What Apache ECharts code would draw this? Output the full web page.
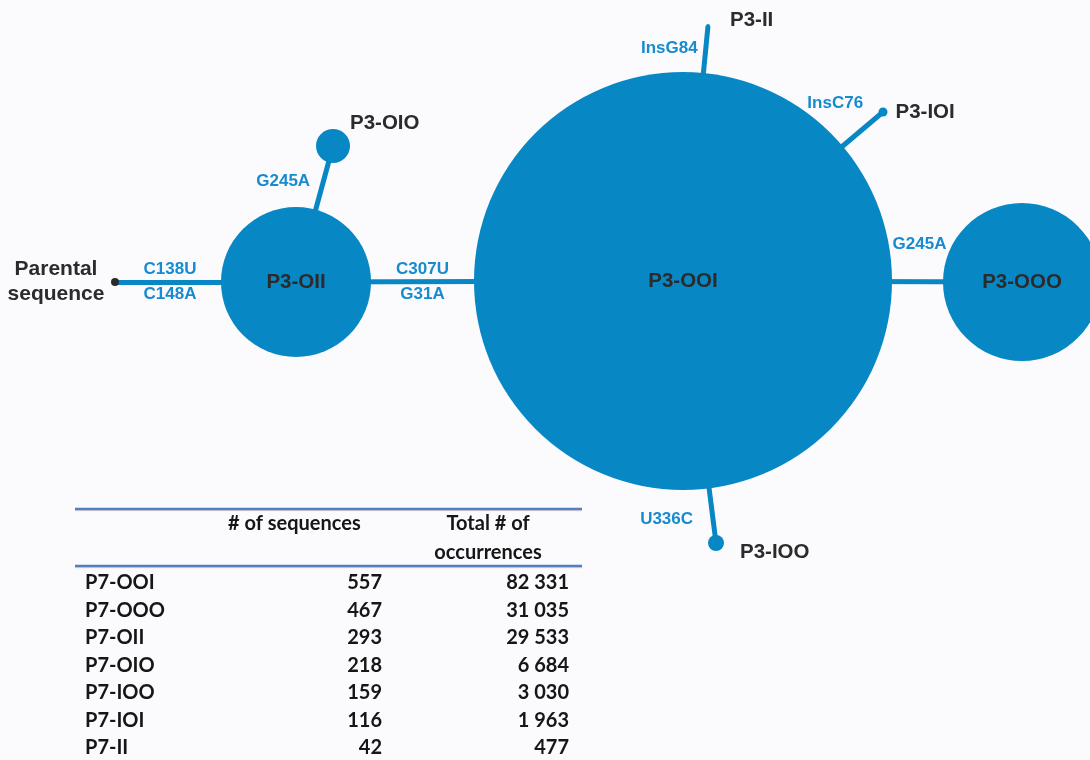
<!DOCTYPE html>
<html>
<head>
<meta charset="utf-8">
<script src="https://cdn.jsdelivr.net/npm/echarts@6/dist/echarts.min.js"></script>
<style>
html, body { margin: 0; padding: 0; background: #fbfbfd; }
#main { width: 1090px; height: 760px; }
</style>
</head>
<body>
<div id="main"></div>
<script>
// haplotypes and the mutations between them
var nodeNames = ['Parental\nsequence', 'P3-OII', 'P3-OIO', 'P3-OOI', 'P3-OOO', 'P3-II', 'P3-IOI', 'P3-IOO'];
var links = [[0, 1], [1, 2], [1, 3], [3, 4], [3, 5], [3, 6], [3, 7]];
var mutations = ['C138U\nC148A', 'G245A', 'C307U\nG31A', 'G245A', 'InsG84', 'InsC76', 'U336C'];

// table
var tableHeader = ['# of sequences', 'Total # of\noccurrences'];
var tableNames = ['P7-OOI', 'P7-OOO', 'P7-OII', 'P7-OIO', 'P7-IOO', 'P7-IOI', 'P7-II'];
var seqCounts = [557, 467, 293, 218, 159, 116, 42];
var occurrences = [82331, 31035, 29533, 6684, 3030, 1963, 477];

// layout of the network (pixel space of the picture)
var nodePos = [[115, 282], [296, 282], [333, 146], [683, 281], [1022, 282], [708, 26], [883, 112], [716, 543]];
var nodeRadius = [4, 75, 17, 209, 79, 2, 4.5, 8];
var nodeLabel = [
    { position: 'left', distance: 0, offset: [-55, 0], align: 'center', fontSize: 21, lineHeight: 25 },
    { position: 'inside' },
    { position: 'right', distance: 0, offset: [0, -23] },
    { position: 'inside' },
    { position: 'inside' },
    { position: 'right', distance: 20, offset: [0, -6] },
    { position: 'right', distance: 8 },
    { position: 'right', distance: 16, offset: [0, 9] }
];
var mutLabel = [
    { align: 'center', offset: [0, 0] },
    { align: 'right', offset: [-12, -5] },
    { align: 'center', offset: [0, 0] },
    { align: 'center', offset: [2, -37] },
    { align: 'right', offset: [-8, -2] },
    { align: 'right', offset: [2, -27] },
    { align: 'right', offset: [-19, 8] }
];

var blue = '#0787c4';

function fmt(n) {
    return String(n).replace(/\B(?=(\d{3})+(?!\d))/g, ' ');
}

// mutation label anchors: middle of the visible part of each link
var mutData = links.map(function (l, i) {
    var a = nodePos[l[0]], b = nodePos[l[1]];
    var dx = b[0] - a[0], dy = b[1] - a[1];
    var len = Math.sqrt(dx * dx + dy * dy);
    var ux = dx / len, uy = dy / len;
    var ra = nodeRadius[l[0]], rb = nodeRadius[l[1]];
    var x = (a[0] + ra * ux + b[0] - rb * ux) / 2;
    var y = (a[1] + ra * uy + b[1] - rb * uy) / 2;
    return {
        value: [x, y],
        name: mutations[i],
        label: { align: mutLabel[i].align, offset: mutLabel[i].offset }
    };
});

var tableFont = { fontFamily: 'Lato', fontWeight: 'bold', fontSize: 20, fill: '#161616' };
var graphic = [];
[509, 566].forEach(function (y) {
    graphic.push({
        type: 'line', shape: { x1: 75, y1: y + 1.5, x2: 582, y2: y + 1.5 },
        style: { stroke: '#ecd6d6', lineWidth: 1.5 }, silent: true
    });
    graphic.push({
        type: 'line', shape: { x1: 75, y1: y, x2: 582, y2: y },
        style: { stroke: '#4f81bd', lineWidth: 2.5 }, silent: true
    });
});
graphic.push({
    type: 'text', x: 228, y: 524,
    style: Object.assign({ text: tableHeader[0], align: 'left', verticalAlign: 'middle' }, tableFont)
});
graphic.push({
    type: 'text', x: 488, y: 538.5,
    style: Object.assign({ text: tableHeader[1], align: 'center', verticalAlign: 'middle', lineHeight: 29 }, tableFont)
});
tableNames.forEach(function (name, i) {
    var y = 583 + i * 27.5;
    graphic.push({ type: 'text', x: 85, y: y,
        style: Object.assign({ text: name, align: 'left', verticalAlign: 'middle' }, tableFont) });
    graphic.push({ type: 'text', x: 382, y: y,
        style: Object.assign({ text: String(seqCounts[i]), align: 'right', verticalAlign: 'middle' }, tableFont) });
    graphic.push({ type: 'text', x: 569, y: y,
        style: Object.assign({ text: fmt(occurrences[i]), align: 'right', verticalAlign: 'middle' }, tableFont) });
});

var chart = echarts.init(document.getElementById('main'));
var option = {
    backgroundColor: '#fbfbfd',
    animation: false,
    grid: { left: 0, right: 0, top: 0, bottom: 0 },
    xAxis: { type: 'value', min: 0, max: 1090, show: false },
    yAxis: { type: 'value', min: 0, max: 760, inverse: true, show: false },
    series: [
        {
            type: 'graph',
            coordinateSystem: 'cartesian2d',
            silent: true,
            data: nodeNames.map(function (n, i) {
                return {
                    name: n,
                    value: nodePos[i],
                    symbolSize: nodeRadius[i] * 2,
                    itemStyle: { color: i === 0 ? '#2b2b2b' : blue, opacity: 1 },
                    label: nodeLabel[i]
                };
            }),
            links: links.map(function (l) { return { source: l[0], target: l[1] }; }),
            lineStyle: { color: blue, width: 5, opacity: 1, curveness: 0 },
            label: {
                show: true,
                color: '#2b2b2b',
                fontFamily: 'Liberation Sans',
                fontWeight: 'bold',
                fontSize: 20.5,
                formatter: '{b}'
            },
            z: 2
        },
        {
            type: 'scatter',
            silent: true,
            symbolSize: 0,
            itemStyle: { opacity: 1 },
            data: mutData,
            label: {
                show: true,
                position: 'inside',
                formatter: '{b}',
                color: '#168bd0',
                opacity: 1,
                fontFamily: 'Liberation Sans',
                fontWeight: 'bold',
                fontSize: 17,
                lineHeight: 25,
                verticalAlign: 'middle'
            },
            z: 3
        }
    ],
    graphic: graphic
};
chart.setOption(option);
</script>
</body>
</html>
